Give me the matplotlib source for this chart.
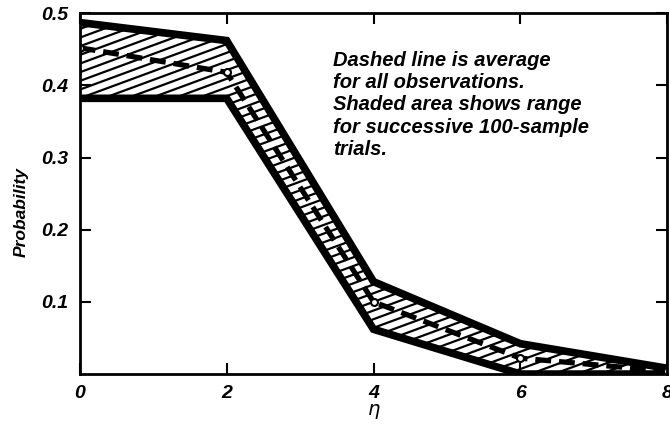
import numpy as np
import matplotlib
matplotlib.use("Agg")
import matplotlib.pyplot as plt
from matplotlib.collections import LineCollection

plt.rcParams['font.family'] = ['Liberation Sans', 'DejaVu Sans']

# datos
eta = [0, 2, 4, 6, 8]
p_alto = [0.487, 0.462, 0.128, 0.042, 0.008]
p_bajo = [0.382, 0.382, 0.062, 0.0, 0.0]
p_medio = [0.452, 0.418, 0.100, 0.022, 0.004]

yticks = [0.1, 0.2, 0.3, 0.4, 0.5]
xticks = [0, 2, 4, 6, 8]

fig = plt.figure(figsize=(6.7, 4.38), dpi=100)
ax = fig.add_axes([0.119, 0.146, 0.877, 0.824])

# area sombreada (rayado inclinado, mas plano que el hatch normal)
area = ax.fill_between(eta, p_bajo, p_alto, facecolor='white', linewidth=0)
c = np.arange(-0.7, 1.05, 0.024)
segs = [[(0, ci), (1, ci + 0.6)] for ci in c]
rayas = LineCollection(segs, colors='black', linewidths=1.6, transform=ax.transAxes)
ax.add_collection(rayas)
rayas.set_clip_path(area.get_paths()[0], ax.transData)

ax.plot(eta, p_alto, color='black', lw=5.5, solid_joinstyle='miter')
ax.plot(eta, p_bajo, color='black', lw=5.5, solid_joinstyle='miter')
# promedio
ax.plot(eta, p_medio, color='black', lw=3.8, linestyle=(0, (3, 1.5)),
        marker='o', ms=5, mfc='white', mec='black', mew=1.5)

ax.set_xlim(0, 8)
ax.set_ylim(0, 0.5)
ax.set_xticks(xticks)
ax.set_yticks(yticks)
ax.set_xticklabels([str(t) for t in xticks], fontsize=14, style='italic', weight='bold')
ax.set_yticklabels([f'{t:.1f}' for t in yticks], fontsize=14, style='italic', weight='bold')
ax.tick_params(direction='in', length=8, width=1.5, top=True, right=True,
               labeltop=False, labelright=False, pad=8)
for s in ax.spines.values():
    s.set_linewidth(2)
    s.set_clip_on(False)

ax.set_xlabel(r'$\eta$', fontsize=14, labelpad=0)
ax.set_ylabel('Probability', fontsize=12.5, style='italic', weight='bold')
ax.yaxis.set_label_coords(-0.087, 0.45)

ax.text(3.45, 0.448, 'Dashed line is average\nfor all observations.\n'
        'Shaded area shows range\nfor successive 100-sample\ntrials.',
        fontsize=14.5, style='italic', weight='bold', va='top', ha='left',
        linespacing=1.22)

fig.savefig('out.png', dpi=100)
